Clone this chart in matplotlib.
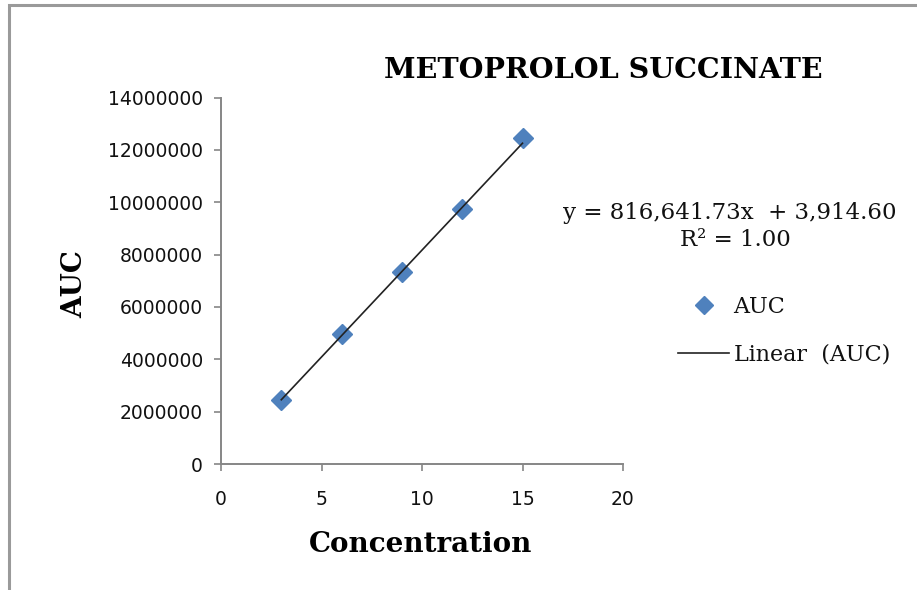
import numpy as np
import matplotlib
matplotlib.use("Agg")
import matplotlib.pyplot as plt
from matplotlib.lines import Line2D
from matplotlib.patches import Rectangle

# ---- data ----
concentration = [3, 6, 9, 12, 15]
auc = [2460000, 4980000, 7340000, 9730000, 12450000]
slope = 816641.73
intercept = 3914.60
r_squared = 1.00
x_ticks = [0, 5, 10, 15, 20]
y_ticks = [0, 2000000, 4000000, 6000000, 8000000, 10000000, 12000000, 14000000]
title = "METOPROLOL SUCCINATE"
x_label = "Concentration"
y_label = "AUC"
series_label = "AUC"
trend_label = "Linear  (AUC)"

W, H = 917, 590
fig = plt.figure(figsize=(W / 100, H / 100), dpi=100)
fig.patch.set_facecolor("white")

# outer border (chart area)
fig.patches.append(Rectangle((8.5 / W, -0.05), 1.2, 1 - 5 / H + 0.05,
                             transform=fig.transFigure, fill=False,
                             edgecolor="#9a9a9a", linewidth=2.2, zorder=0))

left, right, bottom_px, top_px = 221, 623, 464, 97.5
ax = fig.add_axes([left / W, 1 - bottom_px / H, (right - left) / W, (bottom_px - top_px) / H])
ax.set_facecolor("none")

grey = "#868686"
for s in ["top", "right"]:
    ax.spines[s].set_visible(False)
for s in ["left", "bottom"]:
    ax.spines[s].set_color(grey)
    ax.spines[s].set_linewidth(1.4)

ax.set_xlim(0, 20)
ax.set_ylim(0, 14000000)
ax.set_xticks(x_ticks)
ax.set_yticks(y_ticks)
ax.set_xticklabels([str(v) for v in x_ticks])
ax.set_yticklabels([str(v) for v in y_ticks])
ax.tick_params(axis="both", direction="out", length=5, width=1.2, color=grey,
               labelsize=13.5, labelcolor="#111111")
ax.tick_params(axis="x", pad=14)
ax.tick_params(axis="y", pad=8)

# data points
xs = np.array(concentration, dtype=float)
ax.plot(xs, auc, linestyle="none", marker="D", markersize=10.5,
        color="#4F81BD", markeredgecolor="#4F81BD", zorder=3, clip_on=False)
# trend line
xl = np.array([min(concentration), max(concentration)], dtype=float)
ax.plot(xl, slope * xl + intercept, color="#222222", linewidth=1.2, zorder=4)

serif_b = dict(family="DejaVu Serif", weight="bold")
fig.text(603.5 / W, 1 - 71 / H, title, ha="center", va="center", fontsize=20.5, **serif_b)
fig.text(421 / W, 1 - 544 / H, x_label, ha="center", va="center", fontsize=20, **serif_b)
fig.text(75 / W, 1 - 284 / H, y_label, ha="center", va="center", rotation=90, fontsize=20, **serif_b)

# equation
fig.text(730 / W, 1 - 213 / H, f"y = {slope:,.2f}x  + {intercept:,.2f}",
         ha="center", va="center", fontsize=16.5, family="DejaVu Serif", color="#111111")
fig.text(735 / W, 1 - 240 / H, f"R\u00b2 = {r_squared:.2f}",
         ha="center", va="center", fontsize=16.5, family="DejaVu Serif", color="#111111")

# legend
handles = [Line2D([], [], linestyle="none", marker="D", markersize=9,
                  color="#4F81BD"),
           Line2D([], [], color="#222222", linewidth=1.2)]
leg = fig.legend(handles, [series_label, trend_label], loc="upper left",
                 bbox_to_anchor=(678 / W, 1 - 296 / H), frameon=False,
                 prop=dict(family="DejaVu Serif", size=16),
                 handlelength=2.3, handletextpad=0.2, labelspacing=1.15,
                 borderpad=0, borderaxespad=0)
for t in leg.get_texts():
    t.set_color("#111111")

fig.savefig("out.png", dpi=100, facecolor="white")
